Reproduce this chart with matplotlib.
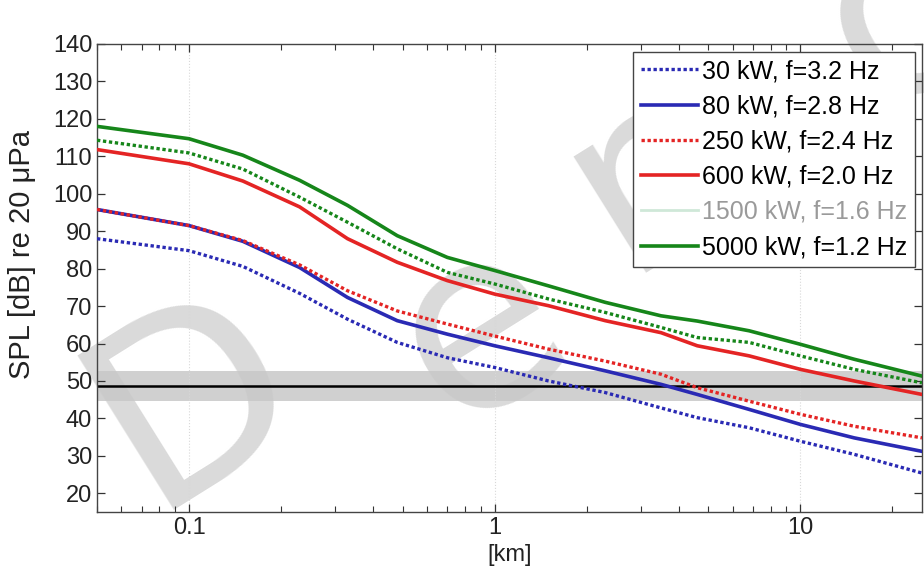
import numpy as np
import matplotlib
matplotlib.use("Agg")
import matplotlib.pyplot as plt
from matplotlib.lines import Line2D
from matplotlib.ticker import FixedLocator, FixedFormatter, LogLocator, NullFormatter

plt.rcParams['font.family'] = ['Liberation Sans', 'DejaVu Sans']

distance_km = [0.05, 0.1, 0.15, 0.23, 0.33, 0.48, 0.7, 1.0, 1.5, 2.3, 3.5, 4.6, 6.8, 10, 15, 25]

spl_30kw   = [88.0, 84.8, 80.6, 73.4, 66.5, 60.3, 56.2, 53.6, 50.0, 46.9, 42.8, 40.2, 37.5, 33.9, 30.4, 25.4]
spl_80kw   = [95.8, 91.5, 87.3, 80.3, 72.3, 66.1, 62.5, 59.4, 56.2, 52.7, 49.1, 46.4, 42.4, 38.4, 34.8, 31.2]
spl_250kw  = [95.8, 91.5, 87.5, 81.0, 74.1, 68.7, 65.2, 62.0, 58.5, 55.3, 51.8, 48.2, 44.6, 41.1, 37.9, 34.8]
spl_600kw  = [111.8, 108.0, 103.4, 96.5, 88.0, 81.7, 76.8, 73.2, 70.1, 66.1, 62.9, 59.4, 56.7, 53.1, 50.0, 46.4]
spl_1500kw = [114.3, 110.9, 106.6, 99.1, 92.4, 85.3, 79.0, 75.9, 71.9, 68.3, 64.3, 61.6, 60.3, 56.7, 53.1, 49.5]
spl_5000kw = [118.0, 114.7, 110.3, 103.6, 96.9, 88.8, 83.0, 79.5, 75.4, 71.0, 67.4, 66.0, 63.4, 59.8, 55.8, 51.3]

labels = ["30 kW, f=3.2 Hz", "80 kW, f=2.8 Hz", "250 kW, f=2.4 Hz",
          "600 kW, f=2.0 Hz", "1500 kW, f=1.6 Hz", "5000 kW, f=1.2 Hz"]

threshold_db = 48.6
band_low, band_high = 44.6, 52.7

x_ticks = [0.1, 1, 10]
x_ticklabels = ["0.1", "1", "10"]
y_ticks = list(range(20, 141, 10))

watermark_letters = ["D", "e", "m", "o"]

BLUE = "#2a2ab4"
RED = "#e42424"
GREEN = "#16861a"

W, H = 924, 574
fig = plt.figure(figsize=(W/100, H/100), dpi=100)
ax = fig.add_axes([97/W, 1-512/H, (922-97)/W, (512-44)/H])

# watermark letters (behind the axes content), placed at pixel centres
wm_centres = [(195, 400), (480, 330), (690, 150), (905, 15)]
for ch, (px, py) in zip(watermark_letters, wm_centres):
    fig.text(px/W, 1-py/H, ch, fontsize=180, color="#dadada", rotation=32,
             ha="center", va="center", zorder=-1, family="DejaVu Sans")
ax.set_facecolor("none")

ax.axhspan(band_low, band_high, color="#c8c8c8", alpha=0.85, lw=0, zorder=1)
ax.axhline(threshold_db, color="black", lw=1.8, zorder=2)

dot = (1.0, 0.8)
ax.plot(distance_km, spl_30kw, color=BLUE, lw=2.4, dashes=dot, zorder=3)
ax.plot(distance_km, spl_80kw, color=BLUE, lw=2.6, zorder=3)
ax.plot(distance_km, spl_250kw, color=RED, lw=2.4, dashes=dot, zorder=4)
ax.plot(distance_km, spl_600kw, color=RED, lw=2.6, zorder=3)
ax.plot(distance_km, spl_1500kw, color=GREEN, lw=2.4, dashes=dot, zorder=3)
ax.plot(distance_km, spl_5000kw, color=GREEN, lw=2.6, zorder=3)

ax.set_xscale("log")
ax.set_xlim(0.05, 25)
ax.set_ylim(15, 140)
ax.xaxis.set_major_locator(FixedLocator(x_ticks))
ax.xaxis.set_major_formatter(FixedFormatter(x_ticklabels))
ax.xaxis.set_minor_locator(LogLocator(base=10, subs=np.arange(2, 10)))
ax.xaxis.set_minor_formatter(NullFormatter())
ax.set_yticks(y_ticks)

ax.grid(True, axis="x", which="major", color="#d8d8d8", lw=0.8, ls=":")
ax.tick_params(axis="both", which="both", direction="in", top=True, right=True,
               labelsize=17, colors="#333333", labelcolor="#222222")
ax.tick_params(which="major", length=6, width=0.9)
ax.tick_params(which="minor", length=4, width=0.8)
for s in ax.spines.values():
    s.set_color("#444444")
    s.set_linewidth(1.0)

ax.set_xlabel("[km]", fontsize=17, color="#222222", labelpad=4)
ax.set_ylabel("SPL [dB] re 20 μPa", fontsize=21, color="#222222")
ax.yaxis.set_label_coords(-0.074, 0.55)

handles = [
    Line2D([], [], color=BLUE, lw=2.4, dashes=dot),
    Line2D([], [], color=BLUE, lw=2.6),
    Line2D([], [], color=RED, lw=2.4, dashes=dot),
    Line2D([], [], color=RED, lw=2.6),
    Line2D([], [], color="#cfe8d8", lw=2.0),
    Line2D([], [], color=GREEN, lw=2.6),
]
leg = ax.legend(handles, labels, loc="upper right", fontsize=18, frameon=True,
                fancybox=False, edgecolor="#444444", framealpha=1,
                handlelength=2.3, handletextpad=0.15, labelspacing=0.45,
                borderpad=0.3, borderaxespad=0.3)
leg.get_frame().set_linewidth(1.0)
leg.set_zorder(10)
leg.get_texts()[4].set_color("#9a9a9a")

fig.savefig("out.png", dpi=100)
